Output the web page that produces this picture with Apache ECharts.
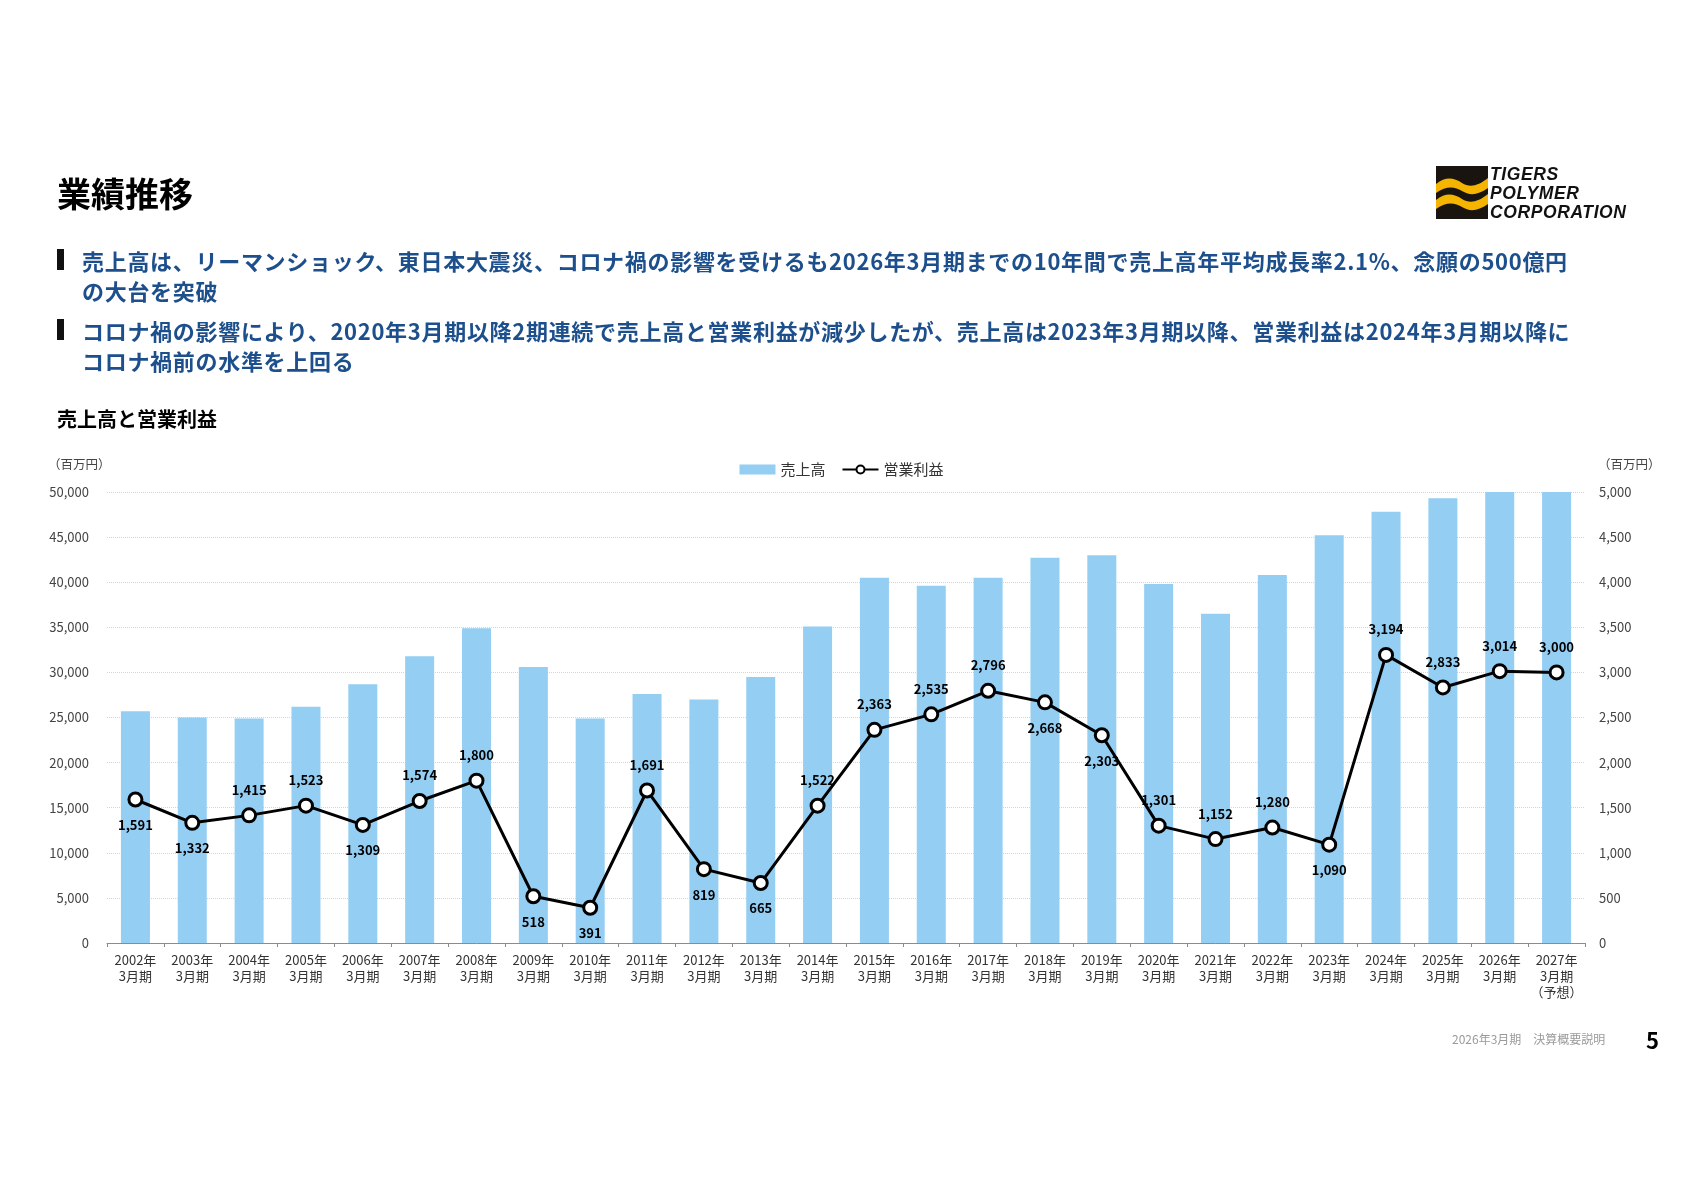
<!DOCTYPE html>
<html lang="ja">
<head>
<meta charset="utf-8">
<title>業績推移</title>
<script src="https://cdn.jsdelivr.net/npm/echarts@6/dist/echarts.min.js"></script>
<style>
  html, body { margin:0; padding:0; background:#fff; }
  body { width:1683px; height:1190px; position:relative; overflow:hidden;
         font-family:"Noto Sans CJK JP","Noto Sans",sans-serif; }
  #chart { position:absolute; left:0; top:0; width:1683px; height:1190px; }
  .ov { position:absolute; white-space:nowrap; pointer-events:none; }
  .title { left:57px; top:170px; font-size:34px; font-weight:700; color:#000; line-height:46px; }
  .bullet { left:82px; font-size:22px; font-weight:700; color:#1d4f8c; line-height:30px; letter-spacing:0.7px; }
  .mark { position:absolute; left:57px; width:7px; height:21px; background:#111; }
  .sub { left:57px; top:405px; font-size:20px; font-weight:700; color:#000; line-height:28px; }
  .unit { top:455px; font-size:12.5px; color:#444; line-height:18px; }
  .foot { left:1452px; top:1031px; font-size:12px; color:#9a9a9a; line-height:16px; }
  .page { left:1646px; top:1025px; font-size:22px; font-weight:700; color:#000; line-height:28px; }
  .logo { left:1436px; top:164px; }
  .logotxt { left:1490px; font-family:"Liberation Sans",Arial,sans-serif; font-weight:900; font-style:italic;
             font-size:17.5px; color:#111; line-height:19px; letter-spacing:0.6px; }
</style>
</head>
<body>
<div id="chart"></div>

<div class="ov title">業績推移</div>

<svg class="ov logo" width="52" height="56" viewBox="0 0 52 56">
  <rect x="0" y="2" width="52" height="53" fill="#1a1410"/>
  <path d="M0,20 C10,12 18,14 26,19 C34,24 42,22 52,14 L52,24 C42,31 34,32 26,27 C18,22 10,22 0,29 Z" fill="#f4b400"/>
  <path d="M0,36 C10,28 18,30 26,35 C34,40 42,38 52,30 L52,40 C42,47 34,48 26,43 C18,38 10,38 0,45 Z" fill="#f4b400"/>
</svg>
<div class="ov logotxt" style="top:165px">TIGERS</div>
<div class="ov logotxt" style="top:184px">POLYMER</div>
<div class="ov logotxt" style="top:203px">CORPORATION</div>

<div class="mark" style="top:249px"></div>
<div class="ov bullet" style="top:245px">売上高は、リーマンショック、東日本大震災、コロナ禍の影響を受けるも2026年3月期までの10年間で売上高年平均成長率2.1%、念願の500億円<br>の大台を突破</div>
<div class="mark" style="top:319px"></div>
<div class="ov bullet" style="top:315px">コロナ禍の影響により、2020年3月期以降2期連続で売上高と営業利益が減少したが、売上高は2023年3月期以降、営業利益は2024年3月期以降に<br>コロナ禍前の水準を上回る</div>

<div class="ov sub">売上高と営業利益</div>
<div class="ov unit" style="left:48px">（百万円）</div>
<div class="ov unit" style="left:1598px">（百万円）</div>

<div class="ov foot">2026年3月期　決算概要説明</div>
<div class="ov page">5</div>

<script>
// ---- data ----
const categories = [
  '2002年\n3月期','2003年\n3月期','2004年\n3月期','2005年\n3月期','2006年\n3月期',
  '2007年\n3月期','2008年\n3月期','2009年\n3月期','2010年\n3月期','2011年\n3月期',
  '2012年\n3月期','2013年\n3月期','2014年\n3月期','2015年\n3月期','2016年\n3月期',
  '2017年\n3月期','2018年\n3月期','2019年\n3月期','2020年\n3月期','2021年\n3月期',
  '2022年\n3月期','2023年\n3月期','2024年\n3月期','2025年\n3月期','2026年\n3月期',
  '2027年\n3月期\n（予想）'
];
const salesValues = [
  25700, 25000, 24900, 26200, 28700, 31800, 34900, 30600, 24900, 27600,
  27000, 29500, 35100, 40500, 39600, 40500, 42700, 43000, 39800, 36500,
  40800, 45200, 47800, 49300, 50000, 50000
];
const operatingIncome = [
  1591, 1332, 1415, 1523, 1309, 1574, 1800, 518, 391, 1691,
  819, 665, 1522, 2363, 2535, 2796, 2668, 2303, 1301, 1152,
  1280, 1090, 3194, 2833, 3014, 3000
];
const leftTicks = { min: 0, max: 50000, interval: 5000 };
const rightTicks = { min: 0, max: 5000, interval: 500 };
// label placement of the operating-income values (true = below the point)
const labelBelow = [
  true, true, false, false, true, false, false, true, true, false,
  true, true, false, false, false, false, true, true, false, false,
  false, true, false, false, false, false
];
const seriesNames = ['売上高', '営業利益'];

// ---- chart ----
const chart = echarts.init(document.getElementById('chart'), null, { renderer: 'canvas' });
const FONT = '"Noto Sans CJK JP","Noto Sans",sans-serif';
const fmt = v => v.toLocaleString('en-US');

chart.setOption({
  animation: false,
  textStyle: { fontFamily: FONT },
  grid: { left: 107, right: 98, top: 492, bottom: 247, containLabel: false },
  legend: {
    top: 457,
    left: 'center',
    itemGap: 16,
    itemWidth: 36,
    itemHeight: 10,
    textStyle: { fontSize: 15, color: '#333', fontFamily: FONT },
    data: [
      { name: seriesNames[0], icon: 'rect' },
      { name: seriesNames[1] }
    ]
  },
  xAxis: {
    type: 'category',
    data: categories,
    boundaryGap: true,
    axisLine: { lineStyle: { color: '#8c8c8c', width: 1 } },
    axisTick: { show: true, length: 4, alignWithLabel: false, lineStyle: { color: '#8c8c8c' } },
    axisLabel: { interval: 0, color: '#333', fontSize: 13, lineHeight: 16, margin: 9, fontFamily: FONT }
  },
  yAxis: [
    {
      type: 'value', min: leftTicks.min, max: leftTicks.max, interval: leftTicks.interval,
      axisLine: { show: false }, axisTick: { show: false },
      axisLabel: { color: '#444', fontSize: 13, margin: 18, formatter: fmt, fontFamily: FONT },
      splitLine: { show: true, lineStyle: { color: '#d4d4d4', type: 'dotted', width: 1 } }
    },
    {
      type: 'value', min: rightTicks.min, max: rightTicks.max, interval: rightTicks.interval,
      axisLine: { show: false }, axisTick: { show: false },
      axisLabel: { color: '#444', fontSize: 13, margin: 14, formatter: fmt, fontFamily: FONT },
      splitLine: { show: false }
    }
  ],
  series: [
    {
      name: seriesNames[0],
      type: 'bar',
      yAxisIndex: 0,
      data: salesValues,
      barWidth: 29,
      itemStyle: { color: '#94cef3' },
      z: 1
    },
    {
      name: seriesNames[1],
      type: 'line',
      yAxisIndex: 1,
      data: operatingIncome.map((v, i) => ({
        value: v,
        label: { position: labelBelow[i] ? 'bottom' : 'top' }
      })),
      symbol: 'circle',
      symbolSize: 13,
      lineStyle: { color: '#000', width: 3 },
      itemStyle: { color: '#fff', borderColor: '#000', borderWidth: 3 },
      label: {
        show: true, distance: 11, color: '#000', fontSize: 13, fontWeight: 'bold',
        fontFamily: FONT, formatter: p => fmt(p.value)
      },
      z: 3
    }
  ]
});
</script>
</body>
</html>
